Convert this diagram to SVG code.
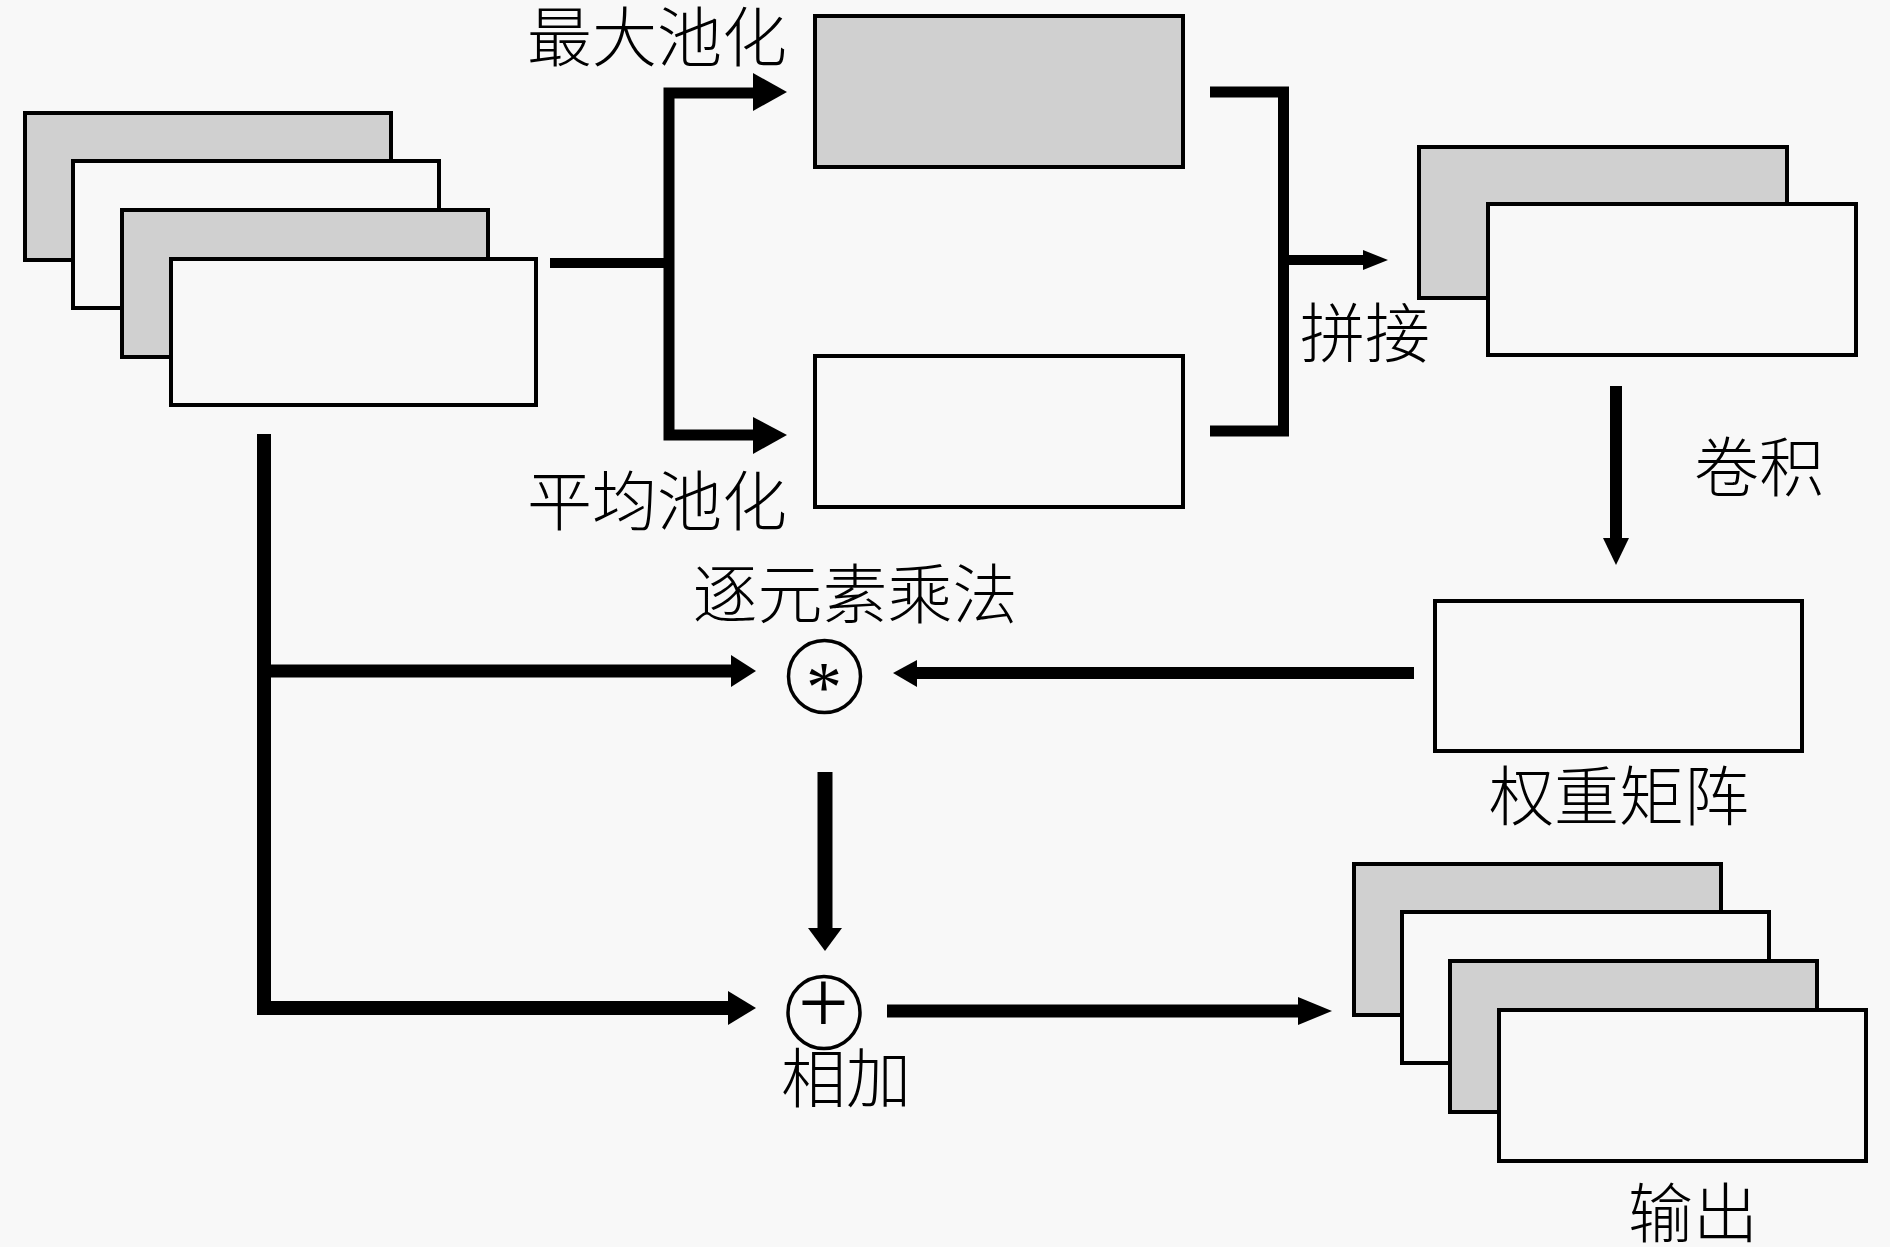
<svg xmlns="http://www.w3.org/2000/svg" width="1890" height="1247" viewBox="0 0 1890 1247">
<style>
.bg{fill:#f8f8f8}
.g{fill:#d0d0d0;stroke:#000;stroke-width:4}
.w{fill:#f8f8f8;stroke:#000;stroke-width:4}
.ln{fill:none;stroke:#000;stroke-linejoin:miter;stroke-linecap:butt}
.ah{fill:#000;stroke:none}
.lbl{font-family:"Noto Sans CJK SC","Noto Sans CJK JP",sans-serif;font-size:65px;font-weight:300;fill:#000;text-anchor:middle}
.sym{font-family:"Liberation Serif",serif;fill:#000;text-anchor:middle}
.op{fill:none;stroke:#000;stroke-width:3.5}
</style>
<rect class="bg" x="0" y="0" width="1890" height="1247"/>

<g id="input-stack">
<rect class="g" x="25" y="113" width="366" height="147"/>
<rect class="w" x="73" y="161" width="366" height="147"/>
<rect class="g" x="122" y="210" width="366" height="147"/>
<rect class="w" x="171" y="259" width="365" height="146"/>
</g>

<g id="maxpool">
<rect class="g" x="815" y="16" width="368" height="151"/>
<text class="lbl" x="657" y="61">最大池化</text>
</g>

<g id="avgpool">
<rect class="w" x="815" y="356" width="368" height="151"/>
<text class="lbl" x="657" y="525">平均池化</text>
</g>

<g id="concat">
<rect class="g" x="1419" y="147" width="368" height="151"/>
<rect class="w" x="1488" y="204" width="368" height="151"/>
<text class="lbl" x="1365" y="357">拼接</text>
</g>

<g id="weight">
<rect class="w" x="1435" y="601" width="367" height="150"/>
<text class="lbl" x="1619" y="820">权重矩阵</text>
</g>

<g id="multiply">
<circle class="op" cx="824.5" cy="676.5" r="36"/>
<text class="sym" x="824" y="711" font-size="72">*</text>
<text class="lbl" x="855" y="618">逐元素乘法</text>
</g>

<g id="add">
<circle class="op" cx="824" cy="1012.5" r="36"/>
<text class="sym" x="823.5" y="1033" font-size="90">+</text>
<text class="lbl" x="846" y="1102">相加</text>
</g>

<g id="output">
<rect class="g" x="1354" y="864" width="367" height="151"/>
<rect class="w" x="1402" y="912" width="367" height="151"/>
<rect class="g" x="1450" y="961" width="367" height="151"/>
<rect class="w" x="1499" y="1010" width="367" height="151"/>
<text class="lbl" x="1693" y="1237">输出</text>
</g>

<g id="conv-label">
<text class="lbl" x="1759" y="491">卷积</text>
</g>

<g id="connectors">
<path class="ln" stroke-width="10" d="M550 263 H669"/>
<path class="ln" stroke-width="11" d="M755 93 H669 V435 H755"/>
<polygon class="ah" points="753,73 787,92 753,111"/>
<polygon class="ah" points="753,417 787,435 753,454"/>

<path class="ln" stroke-width="11" d="M1210 92 H1283.5 V431 H1210"/>
<path class="ln" stroke-width="10" d="M1283 260 H1365"/>
<polygon class="ah" points="1363,250 1388,260 1363,270"/>

<path class="ln" stroke-width="12" d="M1616 386 V540"/>
<polygon class="ah" points="1603,538 1629,538 1616,565"/>

<path class="ln" stroke-width="12" d="M1414 673 H915"/>
<polygon class="ah" points="917,660 893,673 917,687"/>

<path class="ln" stroke-width="14" d="M264 434 V1008 H730"/>
<path class="ln" stroke-width="13" d="M264 671 H734"/>
<polygon class="ah" points="731,655 756,671 731,687"/>
<polygon class="ah" points="728,991 756,1008 728,1025"/>

<path class="ln" stroke-width="15" d="M825 772 V930"/>
<polygon class="ah" points="808,928 842,928 825,951"/>

<path class="ln" stroke-width="13" d="M887 1011 H1300"/>
<polygon class="ah" points="1298,997 1332,1011 1298,1025"/>
</g>
</svg>
